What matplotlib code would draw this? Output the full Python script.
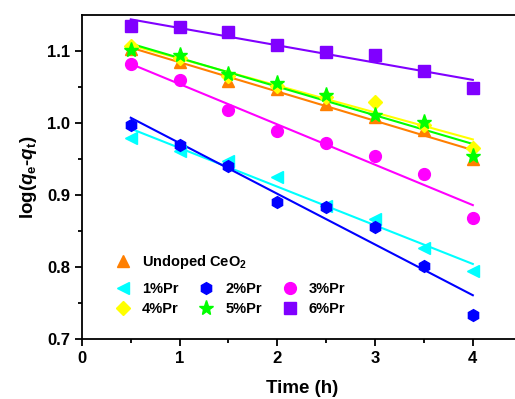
import numpy as np
import matplotlib
matplotlib.use("Agg")
from matplotlib import pyplot as plt

plt.rcParams['font.family'] = ['Liberation Sans', 'DejaVu Sans']
plt.rcParams['font.weight'] = 'bold'
plt.rcParams['mathtext.fontset'] = 'custom'
plt.rcParams['mathtext.rm'] = 'Liberation Sans:bold'
plt.rcParams['mathtext.bf'] = 'Liberation Sans:bold'
plt.rcParams['mathtext.it'] = 'Liberation Sans:bold:italic'
plt.rcParams['mathtext.bfit'] = 'Liberation Sans:bold:italic'

time_h = [0.5, 1.0, 1.5, 2.0, 2.5, 3.0, 3.5, 4.0]

undoped = [1.103, 1.085, 1.058, 1.047, 1.027, 1.009, 0.991, 0.950]
pr1 = [0.980, 0.962, 0.947, 0.925, 0.885, 0.867, 0.826, 0.795]
pr2 = [0.998, 0.970, 0.941, 0.891, 0.883, 0.856, 0.802, 0.733]
pr3 = [1.082, 1.060, 1.018, 0.989, 0.972, 0.955, 0.930, 0.868]
pr4 = [1.107, 1.090, 1.065, 1.052, 1.036, 1.029, 0.998, 0.966]
pr5 = [1.101, 1.094, 1.068, 1.056, 1.039, 1.012, 1.001, 0.955]
pr6 = [1.135, 1.133, 1.126, 1.108, 1.099, 1.095, 1.072, 1.049]

series = [
    ("Undoped CeO$_\\mathbf{2}$", undoped, "#FF7F00", "^"),
    ("1%Pr", pr1, "#00FFFF", "<"),
    ("2%Pr", pr2, "#0000FF", "h"),
    ("3%Pr", pr3, "#FF00FF", "o"),
    ("4%Pr", pr4, "#FFFF00", "D"),
    ("5%Pr", pr5, "#00FF00", "*"),
    ("6%Pr", pr6, "#8000FF", "s"),
]

fig = plt.figure(figsize=(5.15, 3.99), dpi=100)
ax = fig.add_axes([0.159, 0.150, 0.854, 0.812])

handles = {}
# linear fits
for name, vals, color, mk in series:
    k, b = np.polyfit(time_h, vals, 1)
    xs = np.array([time_h[0], time_h[-1]])
    ax.plot(xs, k * xs + b, color=color, lw=1.5, zorder=2)
for name, vals, color, mk in series:
    ms = 11 if mk == "*" else 8.5
    if mk == "D":
        ms = 7.5
    h, = ax.plot(time_h, vals, ls='none', marker=mk, ms=ms, color=color,
                 mec=color, zorder=3)
    handles[name] = h

ax.set_xlim(0, 4.5)
ax.set_ylim(0.7, 1.15)
ax.set_xticks([0, 1, 2, 3, 4])
ax.set_xticks(np.arange(0.5, 4.5, 1.0), minor=True)
ax.set_yticks([0.7, 0.8, 0.9, 1.0, 1.1])
ax.set_yticks([0.75, 0.85, 0.95, 1.05], minor=True)
ax.tick_params(which='both', direction='out', width=1.3, labelsize=12)
ax.tick_params(which='major', length=5)
ax.tick_params(which='minor', length=3)
for lab in ax.get_xticklabels() + ax.get_yticklabels():
    lab.set_fontweight('bold')
for sp in ax.spines.values():
    sp.set_linewidth(1.3)

ax.set_xlabel("Time (h)", fontsize=13.5, fontweight='bold', labelpad=10)
ax.set_ylabel(r"log($\mathit{q}_\mathbf{e}$-$\mathit{q}_\mathbf{t}$)",
              fontsize=13.5, fontweight='bold', labelpad=6)

names = [s[0] for s in series]
leg1 = ax.legend([handles[names[0]]], [names[0]], loc='upper left',
                 bbox_to_anchor=(0.06, 0.285), frameon=False,
                 prop={'size': 10.5, 'weight': 'bold'}, handletextpad=0.7,
                 borderaxespad=0, handlelength=1.2)
ax.add_artist(leg1)
order = [names[1], names[4], names[2], names[5], names[3], names[6]]
ax.legend([handles[n] for n in order], order, ncol=3, loc='upper left',
          bbox_to_anchor=(0.06, 0.195), frameon=False,
          prop={'size': 10.5, 'weight': 'bold'}, handletextpad=0.7,
          columnspacing=1.3, labelspacing=0.45, borderaxespad=0,
          handlelength=1.2)

fig.savefig("out.png", dpi=100)
